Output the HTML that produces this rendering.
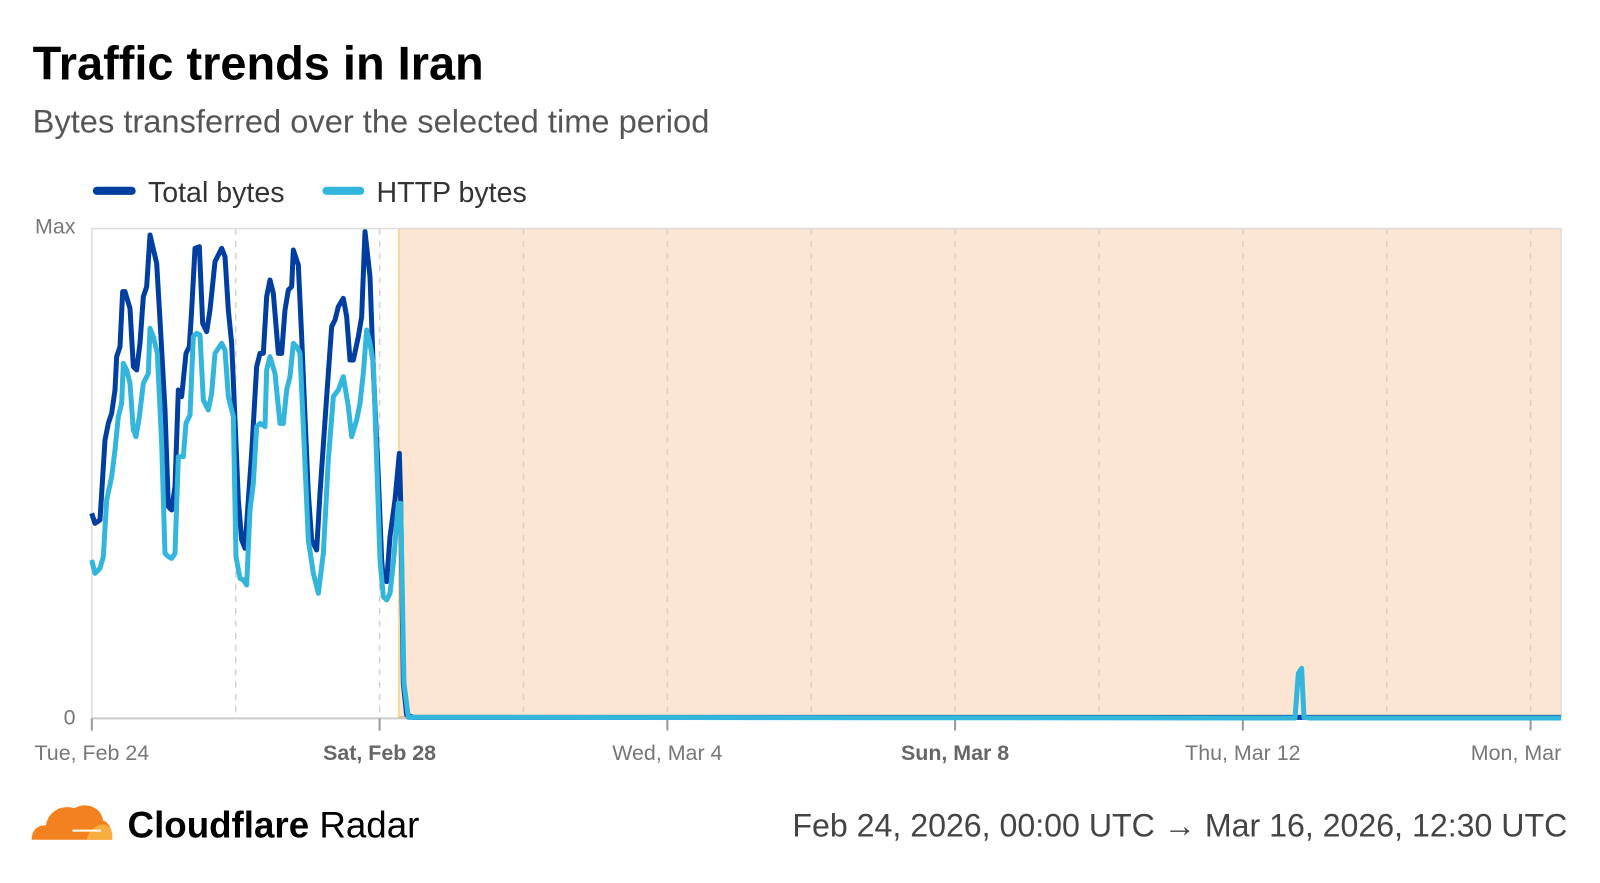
<!DOCTYPE html>
<html><head><meta charset="utf-8"><style>
body{margin:0;background:#fff;width:1600px;height:878px;overflow:hidden;font-family:"Liberation Sans",sans-serif}
</style></head><body>
<svg width="1600" height="878" xmlns="http://www.w3.org/2000/svg" font-family="Liberation Sans, sans-serif">
<g transform="scale(1.0204)">
<text x="32" y="78" font-size="46" font-weight="bold" fill="#000">Traffic trends in Iran</text>
<text x="32" y="130" font-size="32" fill="#555">Bytes transferred over the selected time period</text>
<line x1="95" y1="187" x2="129" y2="187" stroke="#003f9f" stroke-width="8" stroke-linecap="round"/>
<text x="145" y="198" font-size="28" fill="#333">Total bytes</text>
<line x1="320" y1="187" x2="353" y2="187" stroke="#33b5dc" stroke-width="8" stroke-linecap="round"/>
<text x="369" y="198" font-size="28" fill="#333">HTTP bytes</text>
<rect x="391" y="224" width="1139" height="480" fill="#fde5d3"/>
<line x1="391" y1="224" x2="391" y2="704" stroke="#fbd79b" stroke-width="2"/>
<line x1="391" y1="703" x2="1530" y2="703" stroke="#f8a85a" stroke-width="2"/>
<g stroke="#d8d0cc" stroke-dasharray="6,6" stroke-width="1.5">
<line x1="231" y1="224" x2="231" y2="704"/><line x1="372" y1="224" x2="372" y2="704"/>
<line x1="513" y1="224" x2="513" y2="704"/><line x1="654" y1="224" x2="654" y2="704"/>
<line x1="795" y1="224" x2="795" y2="704"/><line x1="936" y1="224" x2="936" y2="704"/>
<line x1="1077" y1="224" x2="1077" y2="704"/><line x1="1218" y1="224" x2="1218" y2="704"/>
<line x1="1359" y1="224" x2="1359" y2="704"/><line x1="1500" y1="224" x2="1500" y2="704"/>
</g>
<rect x="90" y="224" width="1440" height="480" fill="none" stroke="#ddd" stroke-width="1.5"/>
<line x1="90" y1="704" x2="1530" y2="704" stroke="#ccc" stroke-width="2"/>
<g stroke="#999" stroke-width="2">
<line x1="90" y1="704" x2="90" y2="716"/><line x1="372" y1="704" x2="372" y2="716"/><line x1="654" y1="704" x2="654" y2="716"/><line x1="936" y1="704" x2="936" y2="716"/><line x1="1218" y1="704" x2="1218" y2="716"/><line x1="1500" y1="704" x2="1500" y2="716"/>
</g>
<text x="74" y="229" font-size="21" fill="#777" text-anchor="end">Max</text>
<text x="74" y="710" font-size="21" fill="#777" text-anchor="end">0</text>
<g font-size="21" fill="#777" text-anchor="middle">
<text x="90" y="745">Tue, Feb 24</text>
<text x="372" y="745" font-weight="bold" fill="#666">Sat, Feb 28</text>
<text x="654" y="745">Wed, Mar 4</text>
<text x="936" y="745" font-weight="bold" fill="#666">Sun, Mar 8</text>
<text x="1218" y="745">Thu, Mar 12</text>
<text x="1530" y="745" text-anchor="end">Mon, Mar</text>
</g>
<g transform="translate(31,786)">
<path d="M0,37 C0,28 6,22 14,23 C16,10 28,2 42,6 C52,0 68,4 70,18 C76,20 80,28 78,37 Z" fill="#f48120"/>
<path d="M54,37 C56,27 64,22 70,22 C76,22 80,28 79,37 Z" fill="#faad3f"/>
<line x1="40" y1="28" x2="68" y2="28" stroke="#fff" stroke-width="2"/>
</g>
<text x="125" y="821" font-size="36" font-weight="bold" fill="#000">Cloudflare <tspan font-weight="normal">Radar</tspan></text>
<text x="1536" y="820" font-size="31.5" fill="#444" text-anchor="end">Feb 24, 2026, 00:00 UTC → Mar 16, 2026, 12:30 UTC</text>
</g>
<g transform="translate(80,210) scale(0.33333)" fill="none" stroke-width="15" stroke-linejoin="round">
<polyline stroke="#003f9f" points="35,910 45,940 60,930 75,690 85,640 95,610 105,540 110,440 120,410 128,245 135,245 150,295 160,470 170,480 180,400 190,260 200,230 210,75 230,160 240,330 255,600 265,890 275,900 285,830 295,540 305,560 318,430 328,410 335,300 345,115 358,110 368,340 380,365 390,300 405,155 425,115 435,140 445,300 455,400 465,630 475,870 485,990 495,1015 505,870 515,730 530,470 540,430 550,430 560,260 570,210 580,250 595,430 605,430 615,300 625,240 635,230 640,120 655,165 665,380 675,620 685,850 695,990 710,1020 720,850 740,560 755,350 765,330 775,290 790,265 800,320 810,450 820,450 835,380 845,320 855,65 870,200 880,480 895,800 905,1050 910,1110 920,1115 930,980 945,870 958,730 962,870 970,1420 980,1515 1000,1522 4443,1522"/>
<polyline stroke="#33b5dc" points="35,1050 45,1090 60,1075 70,1040 80,870 95,800 105,720 115,620 125,580 130,460 140,480 150,520 160,660 168,680 178,620 190,520 205,490 210,355 220,380 232,430 245,700 255,1030 265,1040 275,1045 285,1030 295,740 310,740 318,640 330,615 340,380 350,370 360,375 370,570 385,600 395,550 405,430 425,400 435,420 445,560 460,620 468,1040 480,1105 490,1110 500,1125 510,900 520,820 530,650 540,640 555,650 560,480 570,440 585,490 600,640 610,640 620,540 630,500 640,400 650,410 660,430 670,650 685,990 700,1090 715,1150 730,1030 745,750 760,560 775,540 790,500 805,590 815,680 830,630 840,580 850,490 860,360 870,400 880,460 890,750 900,1050 910,1160 920,1170 930,1150 940,1060 955,880 962,880 972,1420 985,1522 3645,1524 3655,1390 3665,1375 3672,1522 3690,1524 4443,1524"/>
</g>
</svg>
</body></html>
